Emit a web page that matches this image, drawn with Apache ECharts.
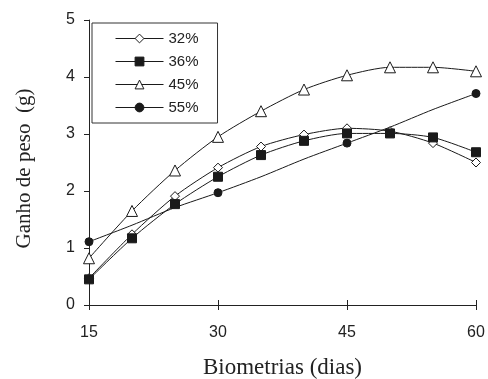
<!DOCTYPE html>
<html>
<head>
<meta charset="utf-8">
<script src="https://cdn.jsdelivr.net/npm/echarts@6/dist/echarts.min.js"></script>
<style>
  html, body { margin: 0; padding: 0; background: #fff; }
  #chart { width: 488px; height: 379px; }
</style>
</head>
<body>
<div id="chart"></div>
<script>
// biometria days
const days = [15, 20, 25, 30, 35, 40, 45, 50, 55, 60];
const xTicks = [15, 30, 45, 60];

// weight gain (g) per protein level
const gain32 = [0.47, 1.24, 1.91, 2.41, 2.78, 2.99, 3.10, 3.05, 2.84, 2.50];
const gain36 = [0.45, 1.17, 1.77, 2.25, 2.63, 2.88, 3.01, 3.01, 2.94, 2.68];
const gain45 = [0.82, 1.65, 2.36, 2.95, 3.40, 3.78, 4.03, 4.17, 4.17, 4.10];
const gain55 = [1.11, 1.40, 1.71, 1.97, 2.25, 2.56, 2.84, 3.12, 3.43, 3.71];
// 55% only has markers on these days
const markerDays55 = [15, 30, 45, 60];

const chart = echarts.init(document.getElementById('chart'));

const ink = '#1a1a1a';
const pairs = (ys) => days.map((d, i) => [d, ys[i]]);

const lineSeries = (name, ys, symbol, size, hollow) => ({
  name: name,
  type: 'line',
  data: pairs(ys),
  symbol: symbol,
  symbolSize: size,
  showAllSymbol: true,
  smooth: 0.25,
  lineStyle: { color: ink, width: 1 },
  itemStyle: { color: hollow ? '#fff' : ink, borderColor: ink, borderWidth: 1 },
  z: 2
});

const s55 = lineSeries('55%', gain55, 'circle', 8, false);
s55.data = days.map((d, i) => ({
  value: [d, gain55[i]],
  symbol: markerDays55.includes(d) ? 'circle' : 'none'
}));

const option = {
  animation: false,
  backgroundColor: '#fff',
  grid: { left: 89, right: 12, top: 20, bottom: 74, outerBoundsMode: 'none' },
  legend: {
    orient: 'vertical',
    left: 92,
    top: 23,
    padding: [8, 19, 8, 23],
    borderColor: '#333',
    borderWidth: 1,
    backgroundColor: '#fff',
    itemWidth: 48,
    itemHeight: 11,
    itemGap: 8,
    lineStyle: { width: 1 },
    itemStyle: { borderWidth: 1 },
    textStyle: { fontFamily: 'Liberation Sans', fontSize: 15, color: '#222', lineHeight: 14 },
    data: ['32%', '36%', '45%', '55%']
  },
  xAxis: [{
    type: 'value',
    min: 15,
    max: 60,
    interval: 15,
    name: 'Biometrias (dias)',
    nameLocation: 'middle',
    nameGap: 51,
    nameTextStyle: { fontFamily: 'Liberation Serif', fontSize: 23, color: '#222' },
    axisLine: { show: true, lineStyle: { color: '#222', width: 1 } },
    axisTick: { show: true, length: 5, lineStyle: { color: '#222' } },
    axisLabel: { fontFamily: 'Liberation Sans', fontSize: 16, color: '#222', margin: 20,
      customValues: xTicks },
    splitLine: { show: false }
  }, {
    type: 'value',
    position: 'bottom',
    min: 15,
    max: 60,
    interval: 15,
    axisLine: { show: false },
    axisTick: { show: true, inside: true, length: 5, lineStyle: { color: '#222' } },
    axisLabel: { show: false },
    splitLine: { show: false }
  }],
  yAxis: {
    type: 'value',
    min: 0,
    max: 5,
    interval: 1,
    name: 'Ganho de peso  (g)',
    nameLocation: 'middle',
    nameGap: 54,
    nameTextStyle: { fontFamily: 'Liberation Serif', fontSize: 21, color: '#222',
      padding: [0, 12, 0, 0] },
    axisLine: { show: true, lineStyle: { color: '#222', width: 1 } },
    axisTick: { show: true, length: 5, lineStyle: { color: '#222' } },
    axisLabel: { fontFamily: 'Liberation Sans', fontSize: 16, color: '#222', margin: 14 },
    splitLine: { show: false }
  },
  series: [
    lineSeries('32%', gain32, 'diamond', 9, true),
    lineSeries('36%', gain36, 'rect', 9, false),
    lineSeries('45%', gain45, 'triangle', 11, true),
    s55
  ]
};

chart.setOption(option);
</script>
</body>
</html>
